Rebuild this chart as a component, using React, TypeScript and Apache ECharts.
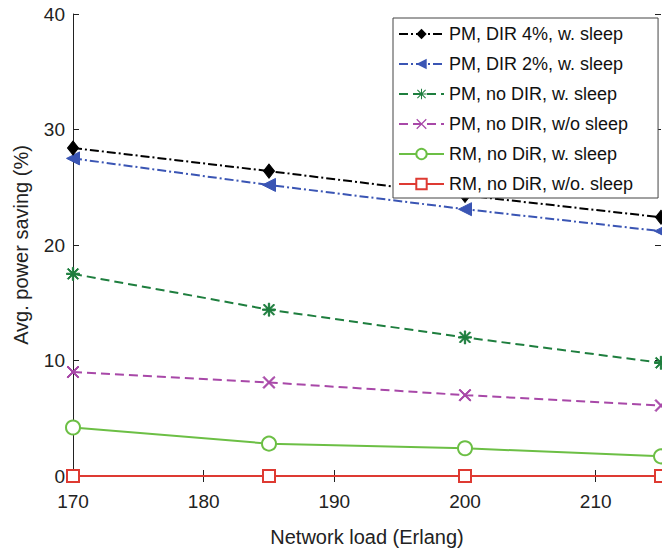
import React, { useEffect, useRef } from "react";
import * as echarts from "echarts";

const loads = [170, 185, 200, 215];
const xTicks = [170, 180, 190, 200, 210];
const yTicks = [0, 10, 20, 30, 40];

const seriesNames = [
  "PM, DIR 4%, w. sleep",
  "PM, DIR 2%, w. sleep",
  "PM, no DIR, w. sleep",
  "PM, no DIR, w/o sleep",
  "RM, no DiR, w. sleep",
  "RM, no DiR, w/o. sleep",
];
const pmDir4 = [28.4, 26.4, 24.3, 22.4];
const pmDir2 = [27.5, 25.2, 23.1, 21.2];
const pmNoDirSleep = [17.5, 14.4, 12.0, 9.8];
const pmNoDirNoSleep = [9.0, 8.1, 7.0, 6.1];
const rmSleep = [4.2, 2.8, 2.4, 1.7];
const rmNoSleep = [0, 0, 0, 0];

const ASTERISK =
  "path://M0 9 L20 9 L20 11 L0 11 Z M9 0 L11 0 L11 20 L9 20 Z M1.4 2.8 L2.8 1.4 L18.6 17.2 L17.2 18.6 Z M17.2 1.4 L18.6 2.8 L2.8 18.6 L1.4 17.2 Z";
const CROSS =
  "path://M1.4 2.8 L2.8 1.4 L18.6 17.2 L17.2 18.6 Z M17.2 1.4 L18.6 2.8 L2.8 18.6 L1.4 17.2 Z";

const FONT = "Liberation Sans, Arial, Helvetica, sans-serif";

export default function App() {
  const ref = useRef<HTMLDivElement>(null);
  useEffect(() => {
    if (!ref.current) return;
    const chart = echarts.init(ref.current, undefined, { renderer: "svg" });
    const toPairs = (vals: number[]) => loads.map((x, i) => [x, vals[i]]);
    const mk = (
      name: string,
      vals: number[],
      color: string,
      type: any,
      symbol: string,
      symbolSize: any,
      extra: any = {}
    ) => ({
      name,
      type: "line",
      data: toPairs(vals),
      symbol,
      symbolSize,
      showSymbol: true,
      clip: false,
      lineStyle: { color, width: 2, type },
      itemStyle: { color, borderColor: color },
      emphasis: { disabled: true },
      ...extra,
    });
    chart.setOption({
      animation: false,
      backgroundColor: "#ffffff",
      textStyle: { fontFamily: FONT },
      grid: { left: 73, top: 14, right: 1, bottom: 75, containLabel: false },
      legend: {
        z: 20,
        zlevel: 0,
        orient: "vertical",
        left: 393,
        top: 18,
        padding: [7, 25, 5, 5],
        itemGap: 12,
        itemWidth: 45,
        itemHeight: 13,
        backgroundColor: "#ffffff",
        borderColor: "#444444",
        borderWidth: 1,
        borderRadius: 0,
        textStyle: { fontSize: 18, color: "#111111", fontFamily: FONT },
        data: seriesNames,
      },
      xAxis: [
        {
          type: "value",
          min: 170,
          max: 215,
          interval: 10,
          position: "bottom",
          name: "Network load (Erlang)",
          nameLocation: "middle",
          nameGap: 51,
          nameTextStyle: { fontSize: 20, color: "#222222", fontFamily: FONT },
          axisLine: { show: true, lineStyle: { color: "#222222", width: 1 } },
          axisTick: { show: true, inside: true, length: 6, lineStyle: { color: "#222222" } },
          axisLabel: {
            fontSize: 19,
            color: "#222222",
            margin: 16,
            showMaxLabel: false,
            formatter: (v: number) => (xTicks.indexOf(v) >= 0 ? String(v) : ""),
          },
          splitLine: { show: false },
        },
        {
          type: "value",
          min: 170,
          max: 215,
          interval: 10,
          position: "top",
          axisLine: { show: true, lineStyle: { color: "#222222", width: 1 } },
          axisTick: { show: true, inside: true, length: 6, lineStyle: { color: "#222222" } },
          axisLabel: { show: false },
          splitLine: { show: false },
        },
      ],
      yAxis: [
        {
          type: "value",
          min: 0,
          max: 40,
          interval: 10,
          position: "left",
          name: "Avg. power saving (%)",
          nameLocation: "middle",
          nameGap: 42,
          nameTextStyle: { fontSize: 20, color: "#222222", fontFamily: FONT },
          axisLine: { show: true, lineStyle: { color: "#222222", width: 1 } },
          axisTick: { show: true, inside: true, length: 6, lineStyle: { color: "#222222" } },
          axisLabel: {
            fontSize: 19,
            color: "#222222",
            margin: 8,
            formatter: (v: number) => (yTicks.indexOf(v) >= 0 ? String(v) : ""),
          },
          splitLine: { show: false },
        },
        {
          type: "value",
          min: 0,
          max: 40,
          interval: 10,
          position: "right",
          axisLine: { show: false },
          axisTick: { show: true, inside: true, length: 6, lineStyle: { color: "#222222" } },
          axisLabel: { show: false },
          splitLine: { show: false },
        },
      ],
      series: [
        mk(seriesNames[5], rmNoSleep, "#de3a32", "solid", "emptyRect", 12, { z: 3 }),
        mk(seriesNames[4], rmSleep, "#6cbf45", "solid", "emptyCircle", 14, { z: 4 }),
        mk(seriesNames[3], pmNoDirNoSleep, "#a848a8", [9, 5], CROSS, 12, { z: 5 }),
        mk(seriesNames[2], pmNoDirSleep, "#1e7e3e", [9, 5], ASTERISK, 13, { z: 6 }),
        mk(seriesNames[1], pmDir2, "#3a55b4", [9, 3, 2, 3], "triangle", 13, {
          z: 7,
          symbolRotate: 90,
        }),
        mk(seriesNames[0], pmDir4, "#000000", [9, 3, 2, 3], "diamond", [11, 14], { z: 8 }),
      ],
    });
    return () => chart.dispose();
  }, []);
  return (
    <div
      ref={ref}
      style={{ position: "fixed", left: 0, top: 0, width: 662, height: 552, background: "#fff" }}
    />
  );
}
